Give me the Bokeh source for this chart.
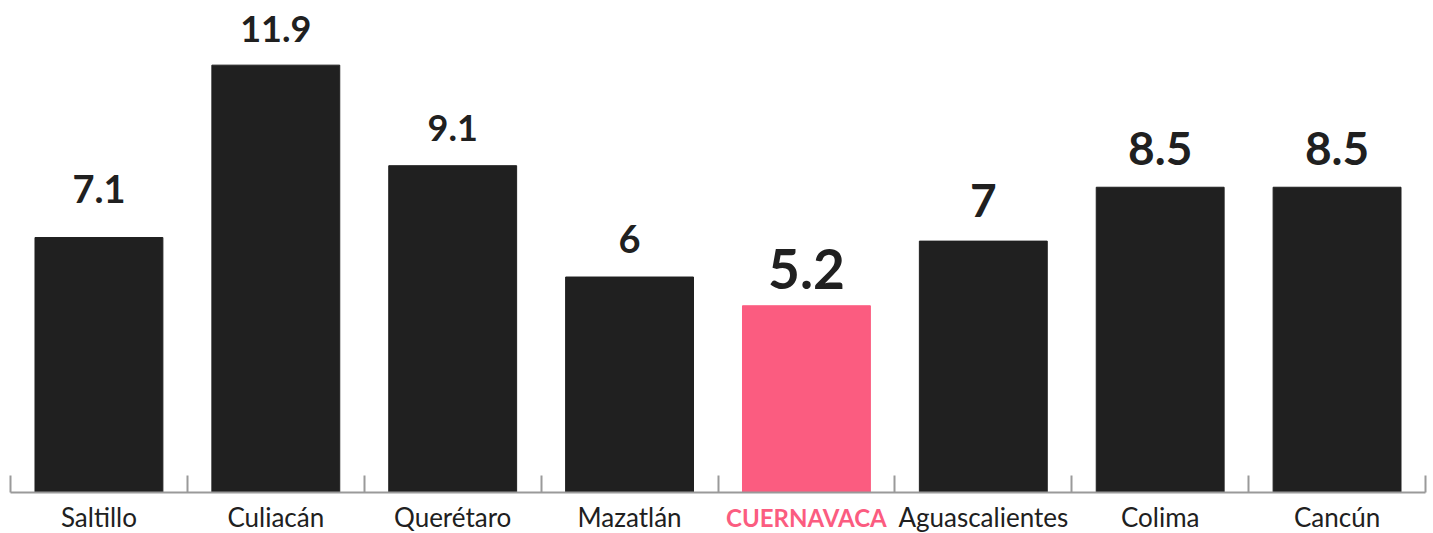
from bokeh.plotting import figure
from bokeh.layouts import column
from bokeh.models import Range1d, FixedTicker, ColumnDataSource
from bokeh.core.properties import value
from bokeh.embed import file_html
from bokeh.resources import INLINE

# ---- data ----
cities = ["Saltillo", "Culiacán", "Querétaro", "Mazatlán", "Cuernavaca",
          "Aguascalientes", "Colima", "Cancún"]
rates = [7.1, 11.9, 9.1, 6, 5.2, 7, 8.5, 8.5]
rate_labels = ["7.1", "11.9", "9.1", "6", "5.2", "7", "8.5", "8.5"]
highlight = "Cuernavaca"
highlight_label = "CUERNAVACA"

# ---- style ----
FONT = "Lato"
DARK = "#202020"
PINK = "#FB5C80"
AXIS_GREY = "#9a9a9a"
label_px = [38, 36, 36, 38, 55, 46, 46, 46]
label_gaps = [34, 22, 24, 24, 16, 23, 21, 21]

n = len(cities)
centers = [i + 0.5 for i in range(n)]
colors = [PINK if c == highlight else DARK for c in cities]

src = ColumnDataSource(dict(
    x=centers, top=rates, color=colors, label=rate_labels,
    size=[f"{s}px" for s in label_px],
    yoff=[-(g + 0.38 * s) for g, s in zip(label_gaps, label_px)],
))

W = 1428
H1 = 494
H2 = 39

p = figure(width=W, height=H1, output_backend="svg", toolbar_location=None,
           x_range=Range1d(0, n), y_range=Range1d(0, 13.7),
           min_border_left=10, min_border_right=3, min_border_top=0,
           min_border_bottom=2)
p.outline_line_color = None
p.xgrid.visible = False
p.ygrid.visible = False
p.yaxis.visible = False

p.vbar(x="x", top="top", width=0.723, color="color", source=src)
p.text(x="x", y="top", text="label", text_font=value(FONT), text_font_style="bold",
       text_font_size="size", text_color=DARK, text_align="center",
       text_baseline="alphabetic", y_offset="yoff", source=src)

ax = p.xaxis[0]
ax.ticker = FixedTicker(ticks=[], minor_ticks=list(range(n + 1)))
ax.major_label_text_font_size = "0px"
ax.major_label_standoff = 0
ax.major_tick_in = 0
ax.major_tick_out = 0
ax.minor_tick_in = 17
ax.minor_tick_out = 0
ax.minor_tick_line_color = AXIS_GREY
ax.minor_tick_line_width = 2
ax.axis_line_color = AXIS_GREY
ax.axis_line_width = 2

# category labels row (one label is highlighted, so drawn as text)
lab_src = ColumnDataSource(dict(
    x=centers,
    y=[16.5] * n,
    text=[highlight_label if c == highlight else c for c in cities],
    color=colors,
    style=["bold" if c == highlight else "normal" for c in cities],
    size=["24px" if c == highlight else "26px" for c in cities],
))
q = figure(width=W, height=H2, output_backend="svg", toolbar_location=None,
           x_range=p.x_range, y_range=Range1d(0, H2),
           min_border_left=10, min_border_right=3, min_border_top=0,
           min_border_bottom=0)
q.outline_line_color = None
q.xgrid.visible = False
q.ygrid.visible = False
q.xaxis.visible = False
q.yaxis.visible = False
q.text(x="x", y="y", text="text", text_color="color", text_font=value(FONT),
       text_font_style="style", text_font_size="size", text_align="center",
       text_baseline="middle", source=lab_src)

layout = column(p, q, spacing=0)
open("out.html", "w").write(file_html(layout, INLINE))
